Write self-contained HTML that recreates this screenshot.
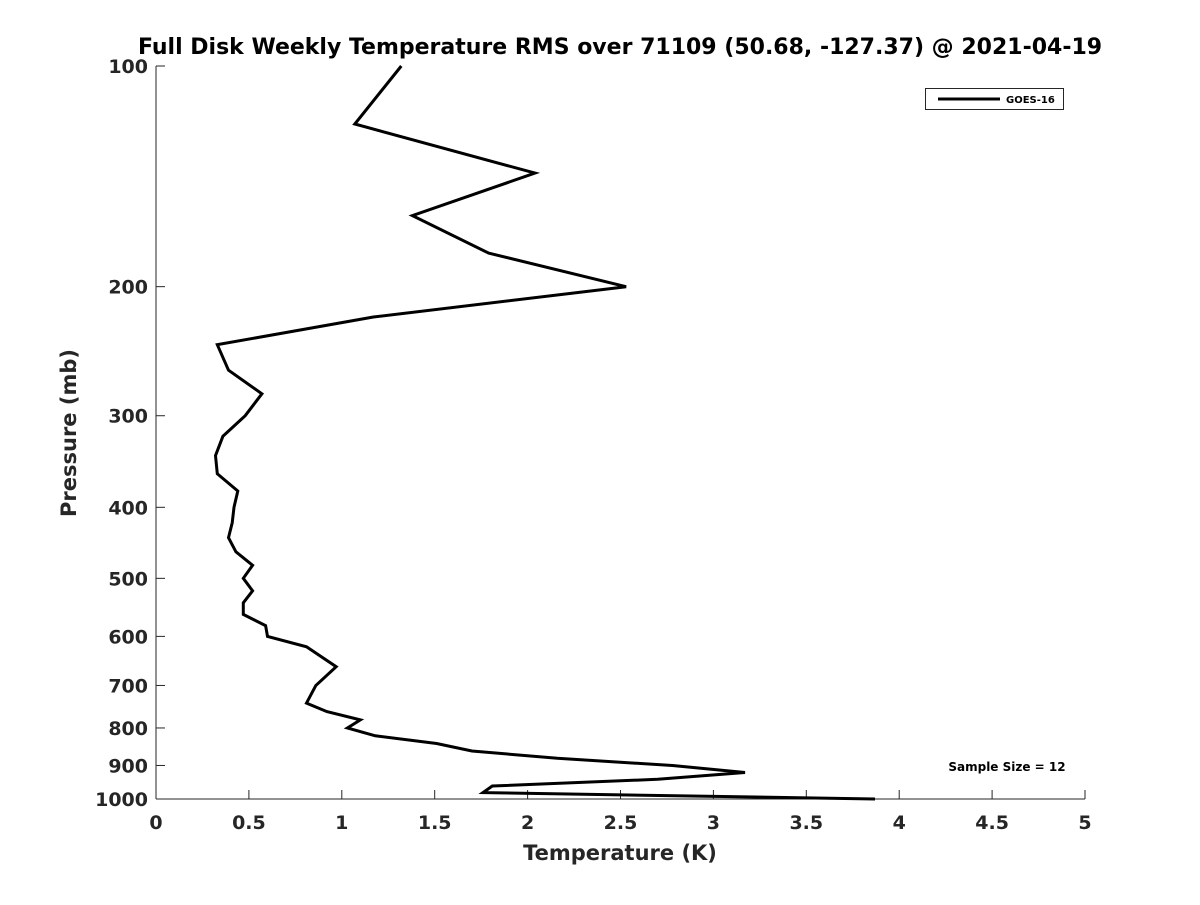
<!DOCTYPE html>
<html><head><meta charset="utf-8"><style>
body{margin:0;background:#fff;}
svg text{font-family:"DejaVu Sans","Liberation Sans",sans-serif;font-weight:bold;fill:#262626;}
</style></head><body>
<svg id="chart" width="1200" height="900" xmlns="http://www.w3.org/2000/svg">
<rect width="1200" height="900" fill="#fff"/>
<text x="620" y="54" text-anchor="middle" font-size="22" style="fill:#000">Full Disk Weekly Temperature RMS over 71109 (50.68, -127.37) @ 2021-04-19</text>
<g id="axes"></g>
<path id="line" fill="none" stroke="#000" stroke-width="3" stroke-linejoin="miter"/>
<g>
<rect x="925.5" y="88.5" width="138" height="21" fill="#fff" stroke="#262626" stroke-width="1"/>
<line x1="938" y1="99" x2="1000" y2="99" stroke="#000" stroke-width="3"/>
<text x="1006" y="103" font-size="10" style="fill:#000">GOES-16</text>
</g>
<text x="1007" y="771" text-anchor="middle" font-size="12" style="fill:#000">Sample Size = 12</text>
<text x="620" y="860" text-anchor="middle" font-size="21">Temperature (K)</text>
<text transform="translate(76,433) rotate(-90)" text-anchor="middle" font-size="21">Pressure (mb)</text>
</svg>
<script>
const pressures=[100,120,140,160,180,200,220,240,260,280,300,320,340,360,380,400,420,440,460,480,500,520,540,560,580,600,620,660,700,740,760,780,800,820,840,860,880,900,920,940,960,980,1000];
const rms=[1.32,1.07,2.04,1.38,1.79,2.53,1.17,0.33,0.39,0.57,0.48,0.36,0.32,0.33,0.44,0.42,0.41,0.39,0.43,0.52,0.47,0.52,0.47,0.47,0.59,0.60,0.81,0.97,0.86,0.81,0.92,1.10,1.03,1.18,1.51,1.70,2.16,2.78,3.17,2.70,1.81,1.76,3.87];
const xTicks=[0,0.5,1,1.5,2,2.5,3,3.5,4,4.5,5];
const xTickLabels=["0","0.5","1","1.5","2","2.5","3","3.5","4","4.5","5"];
const yTicks=[100,200,300,400,500,600,700,800,900,1000];
const yTickLabels=["100","200","300","400","500","600","700","800","900","1000"];
const X0=156,X1=1085,Y0=66,Y1=799;
const xs=v=>X0+(v-0)/(5-0)*(X1-X0);
const ys=p=>Y0+(Math.log10(p)-2)*(Y1-Y0);
const NS="http://www.w3.org/2000/svg";
const ax=document.getElementById('axes');
function mk(t,a){const e=document.createElementNS(NS,t);for(const k in a)e.setAttribute(k,a[k]);ax.appendChild(e);return e;}
let e=mk('line',{x1:X0,y1:Y0,x2:X0,y2:Y1,stroke:'#262626','stroke-width':1});


e=mk('line',{x1:X0,y1:Y1,x2:X1,y2:Y1,stroke:'#262626','stroke-width':1});


xTicks.forEach((v,i)=>{const x=xs(v);
let t=mk('line',{x1:x,y1:Y1,x2:x,y2:Y1-9,stroke:'#262626','stroke-width':1});


let l=mk('text',{x:x,y:Y1+30,'text-anchor':'middle','font-size':19});
l.textContent=xTickLabels[i];

});
yTicks.forEach((v,i)=>{const y=ys(v);
let t=mk('line',{x1:X0,y1:y,x2:X0+9,y2:y,stroke:'#262626','stroke-width':1});


let l=mk('text',{x:X0-8,y:y+7,'text-anchor':'end','font-size':19});
l.textContent=yTickLabels[i];

});
document.getElementById('line').setAttribute('d',pressures.map((p,i)=>(i?'L':'M')+xs(rms[i]).toFixed(1)+','+ys(p).toFixed(1)).join(''));
</script>
</body></html>
